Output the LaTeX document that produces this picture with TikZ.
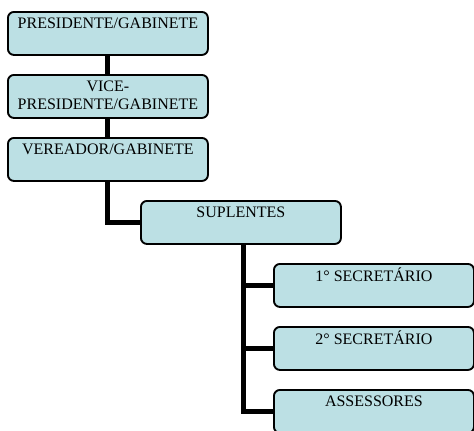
\documentclass[tikz,border=0pt]{standalone}
\usepackage{fontspec}
\setmainfont{Liberation Serif}
\usetikzlibrary{backgrounds}
\definecolor{boxfill}{RGB}{188,224,228}
\newcommand\bxtext[1]{\parbox[c][32.25pt][t]{150pt}{\centering\fontsize{12}{13.5}\selectfont\vspace{2.5pt}\rule{0pt}{9.8pt}#1\par}}
\tikzset{
  orgbox/.style={draw=black, line width=1.4pt, rounded corners=4.5pt, fill=boxfill, inner sep=0pt, anchor=north west},
  conn/.style={draw=black, line width=3.75pt}
}
\begin{document}
\begin{tikzpicture}[x=0.75pt,y=-0.75pt]
\useasboundingbox (0,0) rectangle (474,430);
\clip (0,0) rectangle (474,430);
\node[orgbox] (pres) at (7,11) {\bxtext{PRESIDENTE/GABINETE}};
\node[orgbox] (vice) at (7,74) {\bxtext{VICE-\\PRESIDENTE/GABINETE}};
\node[orgbox] (ver) at (7,137) {\bxtext{VEREADOR/GABINETE}};
\node[orgbox] (sup) at (140,200) {\bxtext{SUPLENTES}};
\node[orgbox] (sec1) at (273,263) {\bxtext{1° SECRETÁRIO}};
\node[orgbox] (sec2) at (273,326) {\bxtext{2° SECRETÁRIO}};
\node[orgbox] (ass) at (273,389) {\bxtext{ASSESSORES}};
\begin{scope}[on background layer]
\draw[conn] (pres.south) -- (vice.north);
\draw[conn] (vice.south) -- (ver.north);
\draw[conn] (ver.south) |- (sup.west);
\draw[conn] ([xshift=2]sup.south) |- (sec1.west);
\draw[conn] ([xshift=2]sup.south) |- (sec2.west);
\draw[conn] ([xshift=2]sup.south) |- (ass.west);
\end{scope}
\end{tikzpicture}
\end{document}
